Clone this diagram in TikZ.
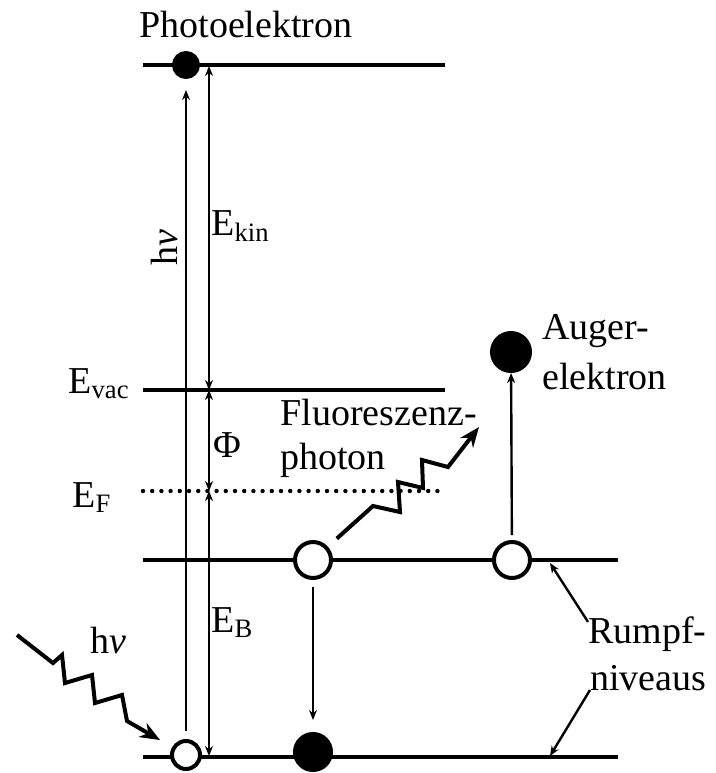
\documentclass[tikz,border=0pt]{standalone}
\usepackage{fontspec}
\setmainfont{Liberation Serif}
\usetikzlibrary{arrows.meta}

\begin{document}
\begin{tikzpicture}[x=0.5pt,y=-0.5pt,>={Stealth[length=5pt,width=4pt]},
  every node/.style={inner sep=0pt,font=\fontsize{19}{23}\selectfont},
  niveau/.style={line width=2.4pt},
  elek/.style={circle,fill=black,draw=black,line width=1pt},
  loch/.style={circle,fill=white,draw=black,line width=2pt},
  pfeil/.style={line width=1.2pt,->},
  photon/.style={line width=2pt,-{Stealth[length=10pt,width=8pt]}}]
  \useasboundingbox (0,0) rectangle (716,773);
  \def\xl{143}
  \def\xr{445}
  \def\xrr{618}
  % Niveaus
  \draw[niveau] (\xl,65) -- (\xr,65);
  \draw[niveau] (\xl,390) -- (\xr,390);
  \draw[line width=2.2pt,line cap=round,dash pattern=on 0pt off 4.6pt] (\xl,491) -- (440,491);
  \draw[niveau] (\xl,560) -- (\xrr,560);
  \draw[niveau] (\xl,757) -- (\xrr,757);
  % Elektronen und Loecher
  \node[elek,minimum size=13pt] (pe) at (186,65) {};
  \node[loch,minimum size=14pt] (core) at (186,755) {};
  \node[loch,minimum size=18pt] (h1) at (313,560) {};
  \node[loch,minimum size=18pt] (h2) at (512,560) {};
  \node[elek,minimum size=19pt] (fill) at (313,752) {};
  \node[elek,minimum size=20pt] (ae) at (511,352) {};
  % Energieskalen
  \coordinate (kT) at (209,66);
  \coordinate (kV) at (209,390);
  \coordinate (kF) at (209,491);
  \coordinate (kB) at (209,756);
  \draw[pfeil,<->] (kT) -- (kV);
  \draw[pfeil,<->] (kV) -- (kF);
  \draw[pfeil,<->] (kF) -- (kB);
  \draw[pfeil,shorten <=4pt,shorten >=5.5pt] (core) -- (pe);
  % Uebergaenge
  \draw[pfeil,shorten <=3.5pt,shorten >=6pt] (h1) -- (fill);
  \draw[pfeil,shorten <=2.5pt] (h2) -- (ae);
  \coordinate (fp) at (479,427);
  \draw[photon,shorten <=6pt] (h1) -- (373,506) -- (400,512) -- (398,482) -- (423,488)
    -- (422,460) -- (448,467) -- (fp);
  \coordinate (src) at (17,635);
  \draw[photon,shorten >=7pt] (src) -- (53,663) -- (62,655) -- (65,683) -- (92,675)
    -- (95,703) -- (122,695) -- (127,721) -- (core);
  % Beschriftung
  \node[anchor=base] (tpe) at (246,37) {Photoelektron};
  \node[anchor=base east] (tvac) at (130,393) {E\textsubscript{vac}};
  \node[anchor=base west] (tF) at (72,507) {E\textsubscript{F}};
  \node[rotate=90] (thv) at (165,248) {h\textit{ν}};
  \node[anchor=base west] (tkin) at (211,235) {E\textsubscript{kin}};
  \node[anchor=base west] (tphi) at (213,457) {Φ};
  \node[anchor=base west] (tB) at (211,632) {E\textsubscript{B}};
  \node[anchor=base west] (thv2) at (90,653) {h\textit{ν}};
  \node[anchor=base west] (tfl1) at (280,425) {Fluoreszenz-};
  \node[anchor=base west] (tfl2) at (280,469) {photon};
  \node[anchor=base west] (tau1) at (542,339) {Auger-};
  \node[anchor=base west] (tau2) at (542,389) {elektron};
  \node[anchor=base west] (tr1) at (588,643) {Rumpf-};
  \node[anchor=base west] (tr2) at (590,690) {niveaus};
  \coordinate (r1) at (550,563);
  \coordinate (r2) at (550,756);
  \draw[pfeil] ([yshift=-3pt]tr1.north west) -- (r1);
  \draw[pfeil] (tr2.base west) -- (r2);
\end{tikzpicture}
\end{document}
